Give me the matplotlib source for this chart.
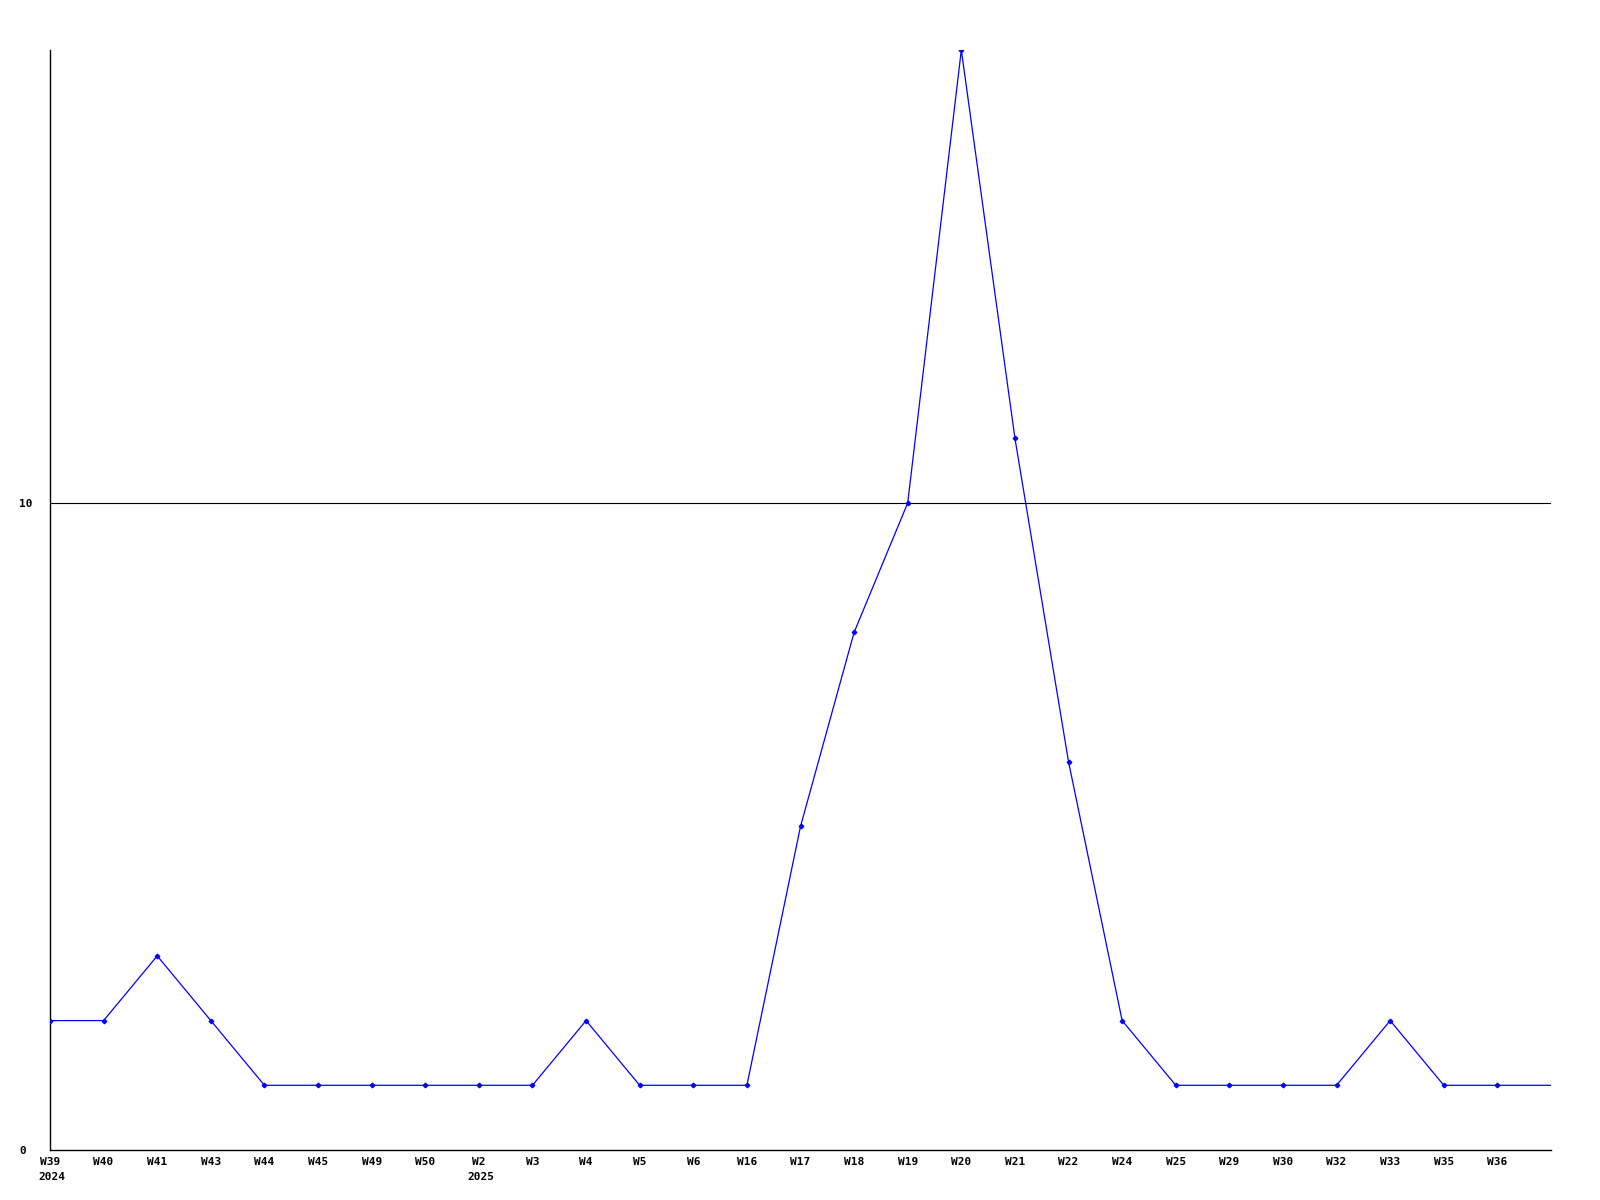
import matplotlib
matplotlib.use("Agg")
import matplotlib.pyplot as plt

weeks = ["W39", "W40", "W41", "W43", "W44", "W45", "W49", "W50", "W2", "W3",
         "W4", "W5", "W6", "W16", "W17", "W18", "W19", "W20", "W21", "W22",
         "W24", "W25", "W29", "W30", "W32", "W33", "W35", "W36", ""]
years = {0: "2024", 8: "2025"}
values = [2, 2, 3, 2, 1, 1, 1, 1, 1, 1,
          2, 1, 1, 1, 5, 8, 10, 17, 11, 6,
          2, 1, 1, 1, 1, 2, 1, 1, 1]
y_ticks = [0, 10]

fig = plt.figure(figsize=(16, 12), dpi=100)
ax = fig.add_axes([50/1600, 1 - 1150/1200, 1501/1600, 1100/1200])

x = list(range(len(values)))
ax.plot(x, values, color="#0000ff", linewidth=0.9, zorder=3)
ax.plot(x[:-1], values[:-1], linestyle="none", marker="D", markersize=2.3,
        color="#0000ff", zorder=4)

ax.set_xlim(0, len(values) - 1)
ax.set_ylim(0, 17)

for spine in ["top", "right"]:
    ax.spines[spine].set_visible(False)
for spine in ["left", "bottom"]:
    ax.spines[spine].set_linewidth(1)
    ax.spines[spine].set_color("black")

font = dict(family="DejaVu Sans Mono", weight="bold", size=8)
ax.set_xticks(x[:-1])
ax.set_xticklabels(weeks[:-1], **font)
ax.set_yticks(y_ticks)
ax.set_yticklabels([str(t) for t in y_ticks], ha="left", **font)
ax.tick_params(axis="both", length=0)
ax.tick_params(axis="x", pad=5)
ax.tick_params(axis="y", pad=22)

for t in y_ticks[1:]:
    ax.axhline(t, color="black", linewidth=0.8, zorder=1)

for i, yr in years.items():
    ax.annotate(yr, xy=(i, 0), xycoords="data", xytext=(-8.5, -16),
                textcoords="offset points", ha="left", va="top", **font)

fig.savefig("out.png", dpi=100)
